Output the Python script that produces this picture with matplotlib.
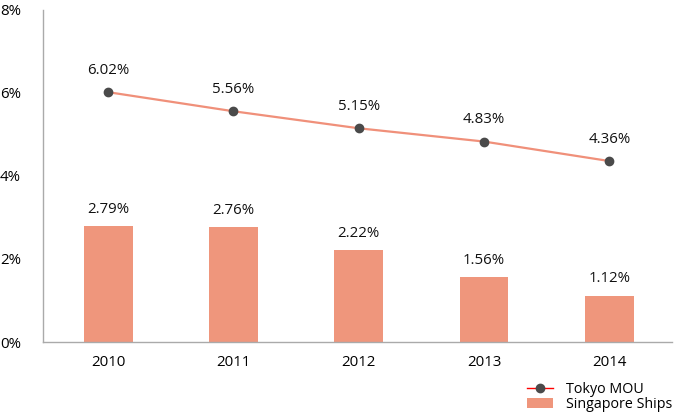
import matplotlib
matplotlib.use("Agg")
import matplotlib.pyplot as plt
import numpy as np
from matplotlib.lines import Line2D
from matplotlib.patches import Patch

years = ["2010", "2011", "2012", "2013", "2014"]
tokyo_mou = [6.02, 5.56, 5.15, 4.83, 4.36]
singapore = [2.79, 2.76, 2.22, 1.56, 1.12]
yticks = [0, 2, 4, 6, 8]

plt.rcParams['font.family'] = ['Open Sans', 'DejaVu Sans']

fig = plt.figure(figsize=(6.78, 4.16), dpi=100)
ax = fig.add_axes([43/678, 1-342/416, (672-43)/678, (342-10)/416])

x = np.arange(len(years))
bar_color = '#EF967C'
ax.bar(x, singapore, width=0.39, color=bar_color, zorder=2)
ax.plot(x, tokyo_mou, color='#F0907A', lw=1.6, marker='o', markersize=6,
        markerfacecolor='#4A4A4A', markeredgecolor='#4A4A4A', zorder=3)

fs = 10.8
for xi, v in zip(x, singapore):
    ax.text(xi, v + 0.22, f"{v:.2f}%", ha='center', va='bottom', fontsize=fs, color='#111111')
for xi, v in zip(x, tokyo_mou):
    ax.text(xi, v + 0.34, f"{v:.2f}%", ha='center', va='bottom', fontsize=fs, color='#111111')

ax.set_xlim(-0.52, len(years) - 0.5)
ax.set_ylim(0, 8)
ax.set_yticks(yticks)
ax.set_yticklabels([f"{t}%" for t in yticks])
ax.set_xticks(x)
ax.set_xticklabels(years)
for s in ['top', 'right']:
    ax.spines[s].set_visible(False)
for s in ['left', 'bottom']:
    ax.spines[s].set_color('#AAAAAA')
    ax.spines[s].set_linewidth(1)
ax.tick_params(axis='y', length=0, pad=31, labelsize=fs)
for lbl in ax.get_yticklabels():
    lbl.set_horizontalalignment('left')
ax.tick_params(axis='x', length=0, pad=9, labelsize=fs)

handles = [Line2D([0], [0], color='red', lw=1, marker='o', markersize=6,
                  markerfacecolor='#4A4A4A', markeredgecolor='#4A4A4A'),
           Patch(facecolor=bar_color)]
fig.legend(handles, ['Tokyo MOU', 'Singapore Ships'], loc='upper left',
           bbox_to_anchor=(527/678, 1-382/416), frameon=False, fontsize=10.3,
           handlelength=1.8, handleheight=0.7, labelspacing=0.0, handletextpad=0.95,
           borderaxespad=0, borderpad=0)

fig.savefig('out.png', dpi=100)
